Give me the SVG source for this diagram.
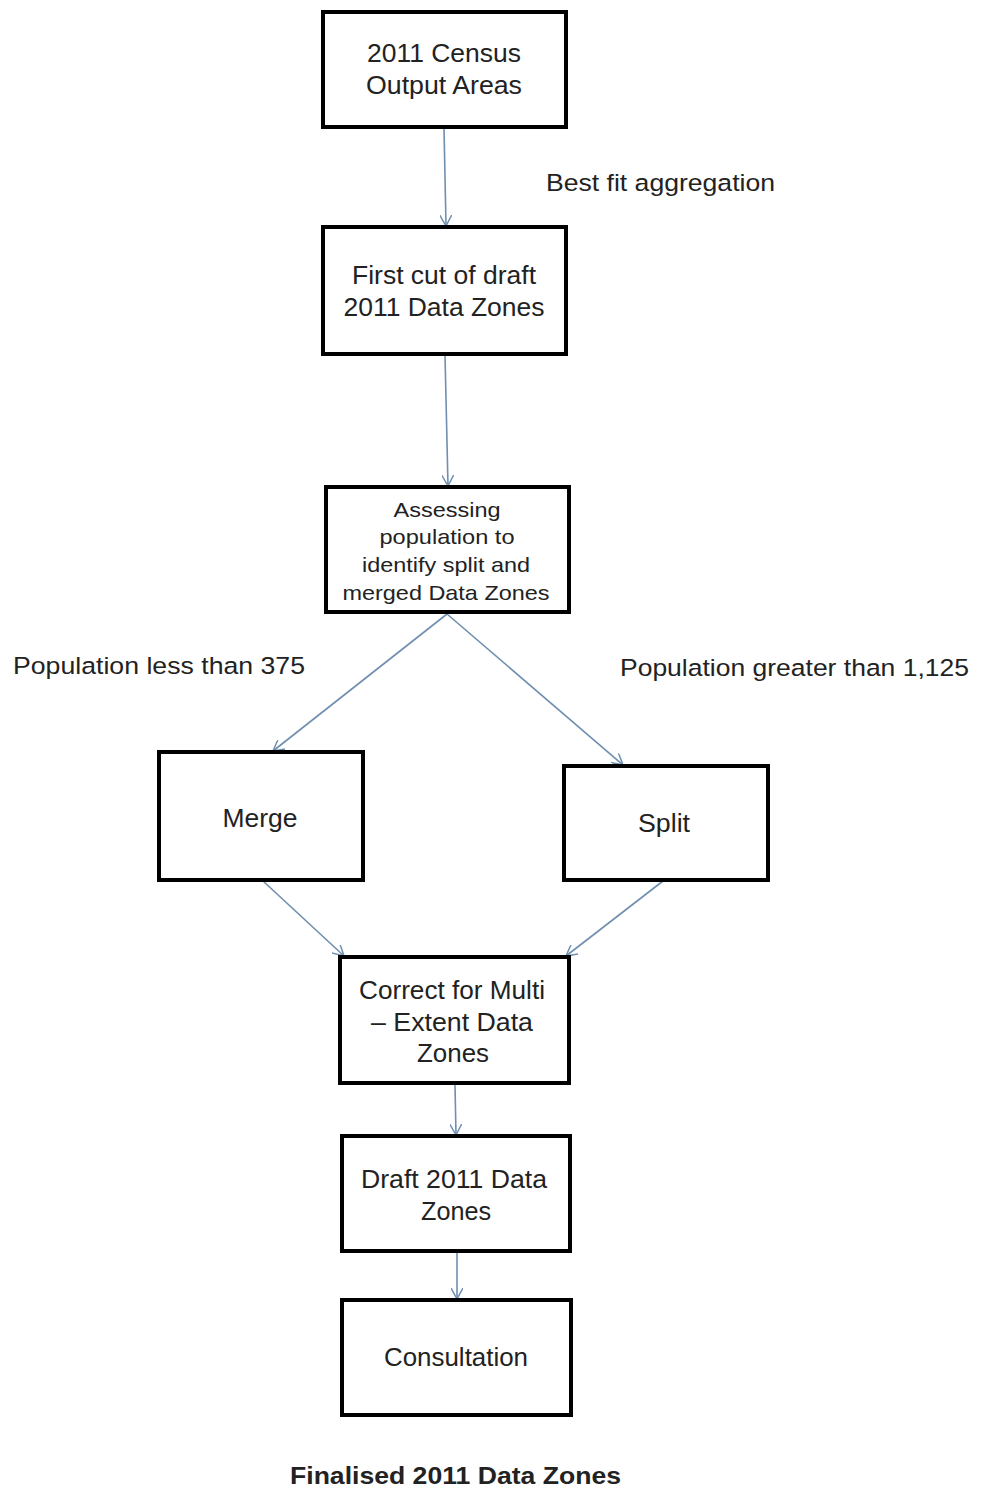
<svg xmlns="http://www.w3.org/2000/svg" width="981" height="1491" viewBox="0 0 981 1491">
<style>
.box{fill:#fff;stroke:#000;stroke-width:4}
.t{font-family:"Liberation Sans",Arial,sans-serif;font-size:25px;fill:#222;text-anchor:middle}
.s{font-size:21px}
.l{font-family:"Liberation Sans",Arial,sans-serif;font-size:24.5px;fill:#222}
.c{stroke:#6f8fb0;stroke-width:1.6;fill:none;marker-end:url(#a)}
</style>
<defs>
<marker id="a" viewBox="0 0 12 12" refX="11" refY="6" markerWidth="12" markerHeight="12" markerUnits="userSpaceOnUse" orient="auto">
<path d="M0,0 L11,6 L0,12" fill="none" stroke="#6f8fb0" stroke-width="1.5"/>
</marker>
</defs>
<rect width="981" height="1491" fill="#fff"/>
<g id="connectors">
<line class="c" x1="444" y1="128" x2="446" y2="226"/>
<line class="c" x1="445" y1="355" x2="448" y2="486"/>
<line class="c" x1="447" y1="614" x2="273" y2="751"/>
<line class="c" x1="447" y1="614" x2="623" y2="765"/>
<line class="c" x1="263" y1="881" x2="344" y2="956"/>
<line class="c" x1="663" y1="881" x2="566" y2="956"/>
<line class="c" x1="455" y1="1085" x2="456" y2="1135"/>
<line class="c" x1="457" y1="1253" x2="457" y2="1299"/>
</g>
<g id="n1"><rect class="box" x="323" y="12" width="243" height="115"/><text class="t" x="444" y="62" textLength="154" lengthAdjust="spacingAndGlyphs">2011 Census</text><text class="t" x="444" y="94" textLength="156" lengthAdjust="spacingAndGlyphs">Output  Areas</text></g>
<g id="n2"><rect class="box" x="323" y="227" width="243" height="127"/><text class="t" x="444" y="284" textLength="184" lengthAdjust="spacingAndGlyphs">First cut of draft</text><text class="t" x="444" y="316" textLength="201" lengthAdjust="spacingAndGlyphs">2011 Data Zones</text></g>
<g id="n3"><rect class="box" x="326" y="487" width="243" height="125"/><text class="t s" x="447" y="517" textLength="107" lengthAdjust="spacingAndGlyphs">Assessing</text><text class="t s" x="447" y="544" textLength="135" lengthAdjust="spacingAndGlyphs">population to</text><text class="t s" x="446" y="572" textLength="168" lengthAdjust="spacingAndGlyphs">identify split and</text><text class="t s" x="446" y="600" textLength="207" lengthAdjust="spacingAndGlyphs">merged Data Zones</text></g>
<g id="n4"><rect class="box" x="159" y="752" width="204" height="128"/><text class="t" x="260" y="827" textLength="75" lengthAdjust="spacingAndGlyphs">Merge</text></g>
<g id="n5"><rect class="box" x="564" y="766" width="204" height="114"/><text class="t" x="664" y="832" textLength="52" lengthAdjust="spacingAndGlyphs">Split</text></g>
<g id="n6"><rect class="box" x="340" y="957" width="229" height="126"/><text class="t" x="452" y="999" textLength="186" lengthAdjust="spacingAndGlyphs">Correct for Multi</text><text class="t" x="452" y="1031" textLength="162" lengthAdjust="spacingAndGlyphs">– Extent  Data</text><text class="t" x="453" y="1062" textLength="72" lengthAdjust="spacingAndGlyphs">Zones</text></g>
<g id="n7"><rect class="box" x="342" y="1136" width="228" height="115"/><text class="t" x="454" y="1188" textLength="186" lengthAdjust="spacingAndGlyphs">Draft 2011 Data</text><text class="t" x="456" y="1220" textLength="70" lengthAdjust="spacingAndGlyphs">Zones</text></g>
<g id="n8"><rect class="box" x="342" y="1300" width="229" height="115"/><text class="t" x="456" y="1366" textLength="144" lengthAdjust="spacingAndGlyphs">Consultation</text></g>
<g id="labels">
<text class="l" x="546" y="191" textLength="229" lengthAdjust="spacingAndGlyphs">Best fit aggregation</text>
<text class="l" x="13" y="674" textLength="292" lengthAdjust="spacingAndGlyphs">Population less than  375</text>
<text class="l" x="620" y="676" textLength="349" lengthAdjust="spacingAndGlyphs">Population greater than 1,125</text>
<text class="l" x="290" y="1484" font-weight="bold" font-size="23" textLength="331" lengthAdjust="spacingAndGlyphs">Finalised 2011 Data Zones</text>
</g>
</svg>
